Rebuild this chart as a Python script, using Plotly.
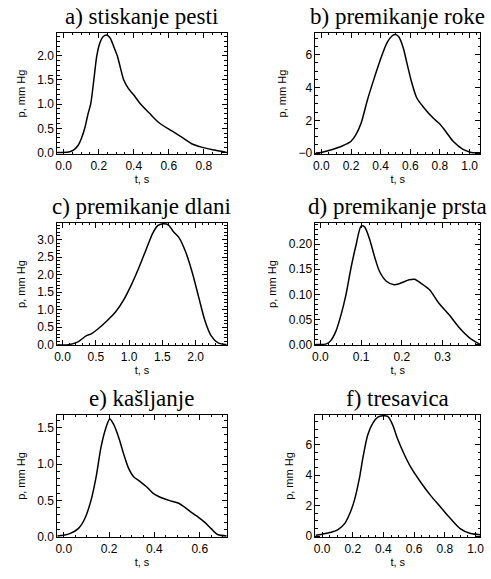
import plotly.graph_objects as go

# ---------------- data ----------------
t_a = [-0.037, 0.028, 0.056, 0.083, 0.102, 0.12, 0.139, 0.154, 0.172, 0.189, 0.207, 0.226,
       0.246, 0.265, 0.287, 0.306, 0.324, 0.343, 0.37, 0.398, 0.435, 0.49, 0.546, 0.62,
       0.676, 0.731, 0.787, 0.861, 0.931]
p_a = [0.0, 0.01, 0.05, 0.15, 0.3, 0.5, 0.8, 1.0, 1.5, 2.0, 2.27, 2.4,
       2.43, 2.37, 2.18, 2.0, 1.75, 1.5, 1.32, 1.2, 1.02, 0.81, 0.61, 0.44,
       0.31, 0.18, 0.11, 0.05, 0.0]

t_b = [-0.04, 0.0, 0.044, 0.133, 0.2, 0.233, 0.267, 0.311, 0.356, 0.4, 0.444, 0.478,
       0.5, 0.522, 0.551, 0.578, 0.611, 0.644, 0.689, 0.756, 0.796, 0.844, 0.889,
       0.956, 1.0, 1.022, 1.071]
p_b = [0.0, 0.04, 0.14, 0.4, 0.72, 1.12, 1.8, 3.26, 4.56, 5.76, 6.76, 7.16,
       7.24, 7.1, 6.46, 5.46, 4.26, 3.36, 2.8, 2.12, 1.8, 1.26, 0.72,
       0.22, 0.06, 0.02, 0.02]

t_c = [-0.08, 0.085, 0.232, 0.354, 0.432, 0.527, 0.674, 0.796, 0.917, 1.038, 1.16, 1.264,
       1.359, 1.435, 1.52, 1.59, 1.665, 1.755, 1.85, 1.95, 2.045, 2.14, 2.235, 2.339, 2.469]
p_c = [0.0, 0.0, 0.08, 0.25, 0.31, 0.44, 0.69, 0.93, 1.27, 1.72, 2.25, 2.75,
       3.19, 3.4, 3.45, 3.42, 3.23, 3.04, 2.65, 2.06, 1.37, 0.69, 0.25, 0.05, 0.0]

t_d = [-0.012, 0.015, 0.025, 0.038, 0.051, 0.063, 0.075, 0.088, 0.1, 0.108, 0.12, 0.133,
       0.145, 0.162, 0.181, 0.196, 0.218, 0.231, 0.247, 0.268, 0.29, 0.319, 0.341, 0.366, 0.392]
p_d = [0.0, 0.001, 0.007, 0.026, 0.06, 0.1, 0.152, 0.2, 0.236, 0.235, 0.212, 0.175,
       0.146, 0.126, 0.119, 0.122, 0.129, 0.13, 0.122, 0.109, 0.083, 0.056, 0.033, 0.013, 0.0]

t_e = [-0.029, 0.0, 0.029, 0.064, 0.093, 0.121, 0.143, 0.164, 0.186, 0.203, 0.221, 0.243,
       0.264, 0.286, 0.307, 0.336, 0.364, 0.393, 0.421, 0.464, 0.507, 0.536, 0.564,
       0.593, 0.621, 0.65, 0.679, 0.719]
p_e = [0.01, 0.02, 0.045, 0.11, 0.25, 0.51, 0.83, 1.23, 1.5, 1.62, 1.54, 1.36,
       1.14, 0.94, 0.83, 0.76, 0.69, 0.6, 0.55, 0.5, 0.46, 0.4, 0.33,
       0.27, 0.2, 0.11, 0.03, 0.01]

t_f = [-0.043, 0.0, 0.06, 0.104, 0.147, 0.18, 0.21, 0.244, 0.266, 0.298, 0.33, 0.363,
       0.395, 0.428, 0.46, 0.49, 0.536, 0.58, 0.644, 0.708, 0.773, 0.838, 0.9, 0.968, 1.03]
p_f = [0.06, 0.13, 0.26, 0.43, 0.82, 1.47, 2.33, 3.84, 5.14, 6.65, 7.4, 7.8,
       7.9, 7.86, 7.3, 6.44, 5.36, 4.49, 3.52, 2.66, 1.9, 1.14, 0.5, 0.17, 0.1]

titles = ["a) stiskanje pesti", "b) premikanje roke", "c) premikanje dlani",
          "d) premikanje prsta", "e) kašljanje", "f) tresavica"]
x_label = "t, s"
y_label = "p, mm Hg"

series = [(t_a, p_a), (t_b, p_b), (t_c, p_c), (t_d, p_d), (t_e, p_e), (t_f, p_f)]

# ---------------- layout / styling ----------------
W, H = 491, 579
col_px = [(55, 227), (317, 484)]
row_px = [(33, 156), (225, 349), (419, 543)]

x_ranges = [[-0.037, 0.931], [-0.04, 1.071], [-0.08, 2.469], [-0.012, 0.392], [-0.029, 0.719], [-0.043, 1.03]]
y_ranges = [[-0.04, 2.48], [-0.08, 7.35], [-0.02, 3.48], [-0.002, 0.243], [-0.01, 1.68], [-0.08, 7.97]]
x_dtick = [0.2, 0.2, 0.5, 0.1, 0.2, 0.2]
x_minor = [0.05, 0.05, 0.1, 0.02, 0.05, 0.05]
y_dtick = [0.5, 2, 0.5, 0.05, 0.5, 2]
y_minor = [0.1, 0.5, 0.1, 0.01, 0.1, 0.5]
y_fmt = [".1f", None, ".1f", ".2f", ".1f", "d"]

tick_font = dict(family="Liberation Sans, Arial, sans-serif", size=12, color="black")
lab_font = dict(family="Liberation Sans, Arial, sans-serif", size=11, color="black")

fig = go.Figure()
annotations = []
for i, (t, p) in enumerate(series):
    r, c = divmod(i, 2)
    xa = "xaxis" if i == 0 else f"xaxis{i+1}"
    ya = "yaxis" if i == 0 else f"yaxis{i+1}"
    xref = "x" if i == 0 else f"x{i+1}"
    yref = "y" if i == 0 else f"y{i+1}"
    fig.add_trace(go.Scatter(x=t, y=p, mode="lines",
                             line=dict(color="black", width=1.5, shape="spline", smoothing=0.8),
                             xaxis=xref, yaxis=yref, showlegend=False, hoverinfo="skip"))
    x0, x1 = col_px[c]
    y0, y1 = row_px[r]
    common = dict(showline=True, linecolor="black", linewidth=1, mirror="allticks", ticks="inside",
                  ticklen=5, tickwidth=1, tickcolor="black", showgrid=False, zeroline=False,
                  tickfont=tick_font)
    fig.layout[xa] = dict(common, domain=[x0 / W, x1 / W], anchor=yref, range=x_ranges[i],
                          tick0=0, dtick=x_dtick[i], tickformat=".1f",
                          minor=dict(ticks="inside", ticklen=2.5, tickcolor="black", dtick=x_minor[i], tick0=0),
                          title=dict(text=x_label, font=lab_font, standoff=2))
    ydict = dict(common, domain=[1 - y1 / H, 1 - y0 / H], anchor=xref, range=y_ranges[i],
                 minor=dict(ticks="inside", ticklen=2.5, tickcolor="black", dtick=y_minor[i], tick0=0),
                 title=dict(text=y_label, font=lab_font, standoff=9))
    if y_fmt[i] is None:
        ydict.update(tickmode="array", tickvals=[0, 2, 4, 6], ticktext=["−0", "2", "4", "6"])
    else:
        ydict.update(tick0=0, dtick=y_dtick[i], tickformat=y_fmt[i])
    fig.layout[ya] = ydict
    annotations.append(dict(text=titles[i], xref="paper", yref="paper",
                            x=(x0 + x1) / 2 / W, y=1 - (y0 - 2) / H, xanchor="center", yanchor="bottom",
                            showarrow=False,
                            font=dict(family="Liberation Serif, Times New Roman, serif", size=23, color="black")))

fig.update_layout(width=W, height=H, margin=dict(l=0, r=0, t=0, b=0),
                  paper_bgcolor="white", plot_bgcolor="white", annotations=annotations)

fig.write_html("out.html", config={"displayModeBar": False},
               post_script="document.body.style.margin='0px';")
